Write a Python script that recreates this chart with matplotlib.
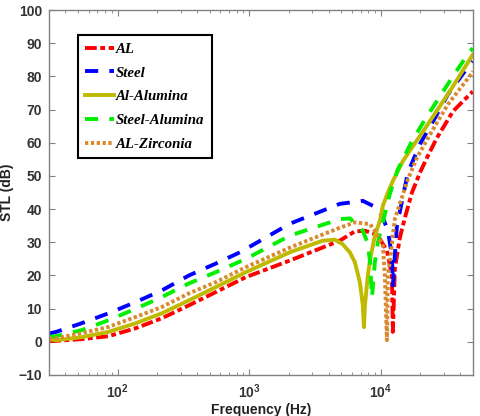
import matplotlib
matplotlib.use("Agg")
import matplotlib.pyplot as plt
from matplotlib.ticker import LogLocator, NullFormatter, FixedLocator

plt.rcParams['lines.scale_dashes'] = False

# ---- data (frequency in Hz, STL in dB) ----
al_f = [30, 34, 53, 85, 137, 216, 347, 556, 940, 2030, 4870, 6340, 7560, 9000, 9830,
        11110, 12130, 12330, 12770, 13940, 15220, 17230, 19820, 22390, 26680, 35310, 50000]
al_db = [0.3, 0.3, 0.8, 1.7, 4.1, 7.1, 11, 15, 19.5, 24.5, 30.5, 33.3, 33.5, 32.5, 31,
         27.5, 20, 3, 22, 31.4, 37.4, 45, 51, 55.5, 61.5, 69.5, 75.5]

steel_f = [30, 34, 53, 85, 137, 216, 347, 556, 850, 2030, 4870, 7290, 9330, 10350, 11300,
           12130, 12330, 12770, 13240, 16040, 19820, 25750, 32330, 43550, 50000]
steel_db = [2.5, 3, 5.6, 8.6, 12, 15.5, 20, 23.6, 27, 35.6, 41.6, 42.5, 40.4, 37.4, 33.5,
            26, 17, 26, 35, 51, 59.6, 67.5, 74.6, 81.6, 84.6]

alal_f = [30, 34, 53, 85, 137, 216, 347, 556, 940, 2030, 3620, 4470, 5100, 5810, 6340,
          6920, 7290, 7430, 7560, 7960, 8250, 8690, 9000, 9830, 10350, 11300, 12330,
          13460, 14690, 22770, 34660, 50000]
alal_db = [0.8, 0.5, 1.4, 3, 5.6, 8.6, 12.5, 16.5, 21, 27, 30.5, 30.8, 29.5, 27, 24,
           18, 11, 4.4, 11, 20, 24.5, 29, 32, 36.5, 41, 45, 48.5,
           51.5, 54.5, 65.6, 76.5, 86.6]

stal_f = [30, 34, 53, 85, 137, 216, 347, 556, 940, 2030, 4870, 5810, 7290, 7960, 8250,
          8550, 9000, 9490, 11700, 13460, 17230, 21610, 28100, 36590, 47520, 50000]
stal_db = [1.5, 1.7, 3.5, 6.5, 10, 13.5, 17.6, 21, 25, 32, 37, 37.2, 33.5, 29.6, 24.5,
           13.4, 24, 30, 44.6, 52, 60.5, 67, 74, 81, 87.6, 88.5]

alzr_f = [30, 34, 53, 85, 137, 216, 347, 556, 940, 2030, 4870, 6340, 8250, 9000, 10350,
          10720, 11110, 11300, 11700, 12330, 12770, 16040, 18790, 24410, 32330, 49220, 50000]
alzr_db = [1, 1.1, 2.6, 4.5, 7.5, 10.5, 14.6, 18, 22.5, 28.4, 34.4, 36, 35.5, 33.5, 29,
           20, 0.5, 20, 24, 32, 37, 49, 55.5, 63.5, 71.6, 81, 81.6]

labels = ['AL', 'Steel', 'Al-Alumina', 'Steel-Alumina', 'AL-Zirconia']
yticks = list(range(-10, 101, 10))

fig = plt.figure(figsize=(4.81, 4.16), dpi=100)
ax = fig.add_axes([0.102, 0.0986, 0.881, 0.877])

lw = 2.8
ax.plot(al_f, al_db, color='#FF0000', lw=lw, dashes=(8.5, 2.5, 3.5, 2.5), label=labels[0])
ax.plot(steel_f, steel_db, color='#0000FF', lw=lw, dashes=(9.5, 8), label=labels[1])
ax.plot(alal_f, alal_db, color='#BFBA00', lw=lw, label=labels[2])
ax.plot(stal_f, stal_db, color='#00F000', lw=lw, dashes=(9.5, 8), label=labels[3])
ax.plot(alzr_f, alzr_db, color='#D98A2E', lw=lw, dashes=(2.4, 1.8), label=labels[4])

ax.set_xscale('log')
ax.set_xlim(30, 50000)
ax.set_ylim(-10, 100)
ax.yaxis.set_major_locator(FixedLocator(yticks))
ax.xaxis.set_major_locator(LogLocator(base=10, numticks=10))
ax.xaxis.set_minor_locator(LogLocator(base=10, subs=range(2, 10), numticks=20))
ax.xaxis.set_minor_formatter(NullFormatter())

for s in ax.spines.values():
    s.set_color('#808080')
    s.set_linewidth(1.0)
ax.tick_params(which='both', direction='in', top=True, right=True, color='#808080')
ax.tick_params(which='major', length=4, labelsize=10, labelcolor='#333333', pad=5)
ax.tick_params(which='minor', length=2)
for t in ax.get_xticklabels() + ax.get_yticklabels():
    t.set_fontweight('bold')
    t.set_family(['Liberation Sans', 'DejaVu Sans'])

ax.set_xlabel('Frequency (Hz)', fontsize=10, fontweight='bold', family='Liberation Sans',
              color='#222222', labelpad=2)
ax.set_ylabel('STL (dB)', fontsize=10, fontweight='bold', family='Liberation Sans',
              color='#222222', labelpad=3)

leg = ax.legend(loc='upper left', bbox_to_anchor=(0.068, 0.932), borderaxespad=0,
                prop={'family': 'Liberation Serif', 'style': 'italic', 'weight': 'bold', 'size': 10.7},
                handlelength=1.9, handletextpad=0.15, labelspacing=0.7, fancybox=False,
                edgecolor='black', framealpha=1, borderpad=0.5)
leg.get_frame().set_linewidth(1.5)

fig.savefig('out.png', dpi=100)
